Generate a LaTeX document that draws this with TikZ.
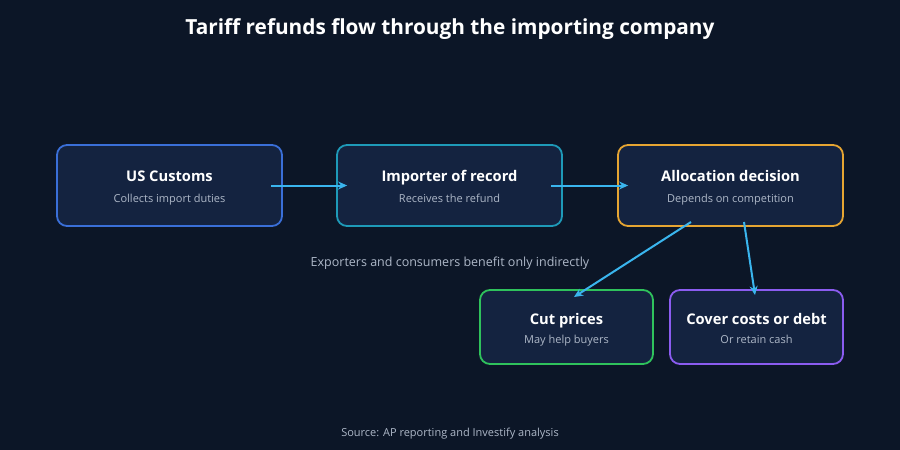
\documentclass[tikz,border=0pt]{standalone}
\usepackage{fontspec}
\setmainfont{Open Sans}
\usetikzlibrary{arrows.meta,calc}
\definecolor{bg}{HTML}{0C1627}
\definecolor{boxfill}{HTML}{142340}
\definecolor{cblue}{HTML}{3A6FD8}
\definecolor{cteal}{HTML}{1E9AB8}
\definecolor{corange}{HTML}{E6A532}
\definecolor{cgreen}{HTML}{2FC25C}
\definecolor{cpurple}{HTML}{8B5CF0}
\definecolor{arrowc}{HTML}{3AB5EE}
\definecolor{subtxt}{HTML}{AEB8C8}
\tikzset{
  card/.style={draw=#1, line width=1.8pt, fill=boxfill, rounded corners=10pt, minimum width=225pt, minimum height=81pt, inner sep=0pt},
  smallcard/.style={card=#1, minimum width=173pt, minimum height=74pt},
  head/.style={anchor=base, font=\fontsize{14.7}{18}\selectfont\bfseries, text=white},
  sub/.style={anchor=base, font=\fontsize{11}{13}\selectfont, text=subtxt},
  flow/.style={draw=arrowc, line width=2pt, -{Stealth[length=9pt,width=8pt]}},
}
\begin{document}
\begin{tikzpicture}[x=1pt,y=-1pt]
\fill[bg] (0,0) rectangle (900,450);
\useasboundingbox (0,0) rectangle (900,450);
\node[anchor=base, font=\fontsize{20.8}{25}\selectfont\bfseries, text=white] (title) at (450,34) {Tariff refunds flow through the importing company};
\node[card=cblue] (cust) at (169.5,185.5) {};
\node[card=cteal] (imp) at (449.5,185.5) {};
\node[card=corange] (alloc) at (730.5,185.5) {};
\node[smallcard=cgreen] (cut) at (566.5,327) {};
\node[smallcard=cpurple] (cover) at (756.5,327) {};
\node[head] (custh) at (169.5,181) {US Customs};
\node[sub] (custs) at (169.5,202) {Collects import duties};
\node[head] (imph) at (449.5,181) {Importer of record};
\node[sub] (imps) at (449.5,202) {Receives the refund};
\node[head] (alloch) at (730.5,181) {Allocation decision};
\node[sub] (allocs) at (730.5,202) {Depends on competition};
\node[head] (cuth) at (566.5,324.5) {Cut prices};
\node[sub] (cuts) at (566.5,343) {May help buyers};
\node[head] (coverh) at (756.5,324.5) {Cover costs or debt};
\node[sub] (covers) at (756.5,343) {Or retain cash};
\node[anchor=base, font=\fontsize{12.5}{15}\selectfont, text=subtxt] (note) at (450,266.5) {Exporters and consumers benefit only indirectly};
\node[anchor=base, font=\fontsize{11}{13}\selectfont, text=subtxt] (src) at (450,436) {Source: AP reporting and Investify analysis};
\coordinate (a1s) at ($(cust.east)+(-12,0)$);
\coordinate (a1e) at ($(imp.west)+(11,0)$);
\coordinate (a2s) at ($(imp.east)+(-12,0)$);
\coordinate (a2e) at ($(alloc.west)+(11,0)$);
\coordinate (a3s) at (691,222);
\coordinate (a3e) at (574,297);
\coordinate (a4s) at (744,222);
\coordinate (a4e) at (755,295);
\draw[flow] (a1s) -- (a1e);
\draw[flow] (a2s) -- (a2e);
\draw[flow] (a3s) -- (a3e);
\draw[flow] (a4s) -- (a4e);
\end{tikzpicture}
\end{document}
